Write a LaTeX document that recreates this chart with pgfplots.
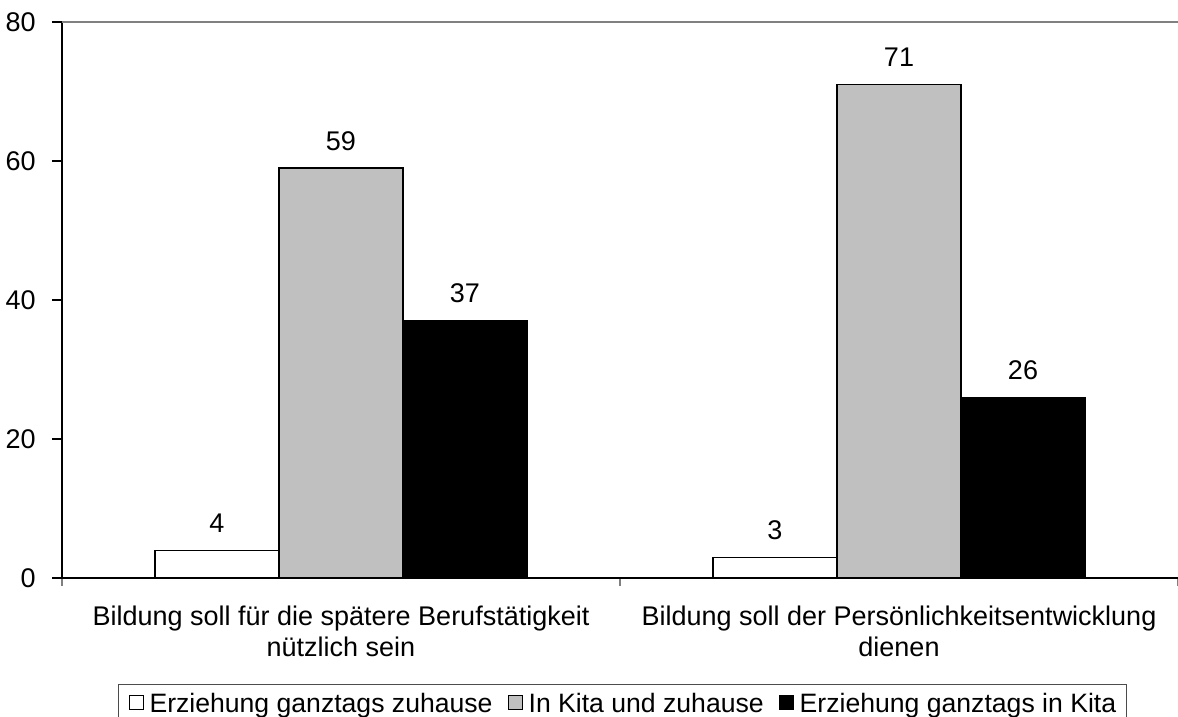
\documentclass[border=0pt]{standalone}
\usepackage{pgfplots}
\pgfplotsset{compat=1.18}
\usepackage{fontspec}
\setmainfont{Liberation Sans}
\definecolor{barGray}{HTML}{C0C0C0}
\definecolor{frameGray}{HTML}{808080}

\begin{document}
\fontsize{13.5bp}{15.5bp}\selectfont
\begin{tikzpicture}
	\useasboundingbox (-31bp,-69.5bp) rectangle (558bp,289bp);
	\begin{axis}[
			at={(0,0)}, anchor=south west,
			width=558bp, height=278bp, scale only axis,
			ybar=0pt, bar width=62bp,
			xmin=-0.5, xmax=1.5, ymin=0, ymax=80,
			ytick={0,20,40,60,80},
			xtick={0,1},
			minor xtick={-0.5,0.5,1.5},
			xticklabels={{Bildung soll für die spätere Berufstätigkeit\\nützlich sein},
					{Bildung soll der Persönlichkeitsentwicklung\\dienen}},
			xticklabel style={align=center, yshift=-4.5bp},
			yticklabel style={xshift=-3.5bp},
			axis x line*=bottom, axis y line*=left,
			axis line style={black, line width=0.6bp},
			tick align=outside,
			major x tick style={draw=none},
			minor x tick style={frameGray, line width=0.6bp},
			major y tick style={black, line width=0.6bp},
			major tick length=5bp, minor tick length=4bp,
			tick label style={font=\fontsize{13.5bp}{15.5bp}\selectfont},
			/pgf/number format/assume math mode=true,
			nodes near coords,
			nodes near coords style={font=\fontsize{13.5bp}{15bp}\selectfont, yshift=4bp},
			legend columns=3,
			legend style={at={(0.0502,-0.1915)}, anchor=north west,
					draw=black!70, line width=0.5bp,
					font=\fontsize{13.3bp}{15bp}\selectfont,
					inner xsep=5bp, inner ysep=2.5bp,
					nodes={inner xsep=0bp, inner ysep=1.5bp},
					/tikz/every odd column/.append style={column sep=2.8bp},
					/tikz/every even column/.append style={column sep=7.5bp}},
			legend image code/.code={\draw[#1, draw=black, line width=0.5bp] (0bp,-2.4bp) rectangle (7.2bp,4.8bp);},
		]
		\addplot[fill=white, draw=black, line width=0.6bp] coordinates {(0,4) (1,3)};
		\addplot[fill=barGray, draw=black, line width=0.6bp] coordinates {(0,59) (1,71)};
		\addplot[fill=black, draw=black, line width=0.6bp] coordinates {(0,37) (1,26)};
		\legend{Erziehung ganztags zuhause, In Kita und zuhause, Erziehung ganztags in Kita}
		\draw[frameGray, line width=0.6bp] (rel axis cs:0,1) -- (rel axis cs:1,1);
	\end{axis}
\end{tikzpicture}
\end{document}
